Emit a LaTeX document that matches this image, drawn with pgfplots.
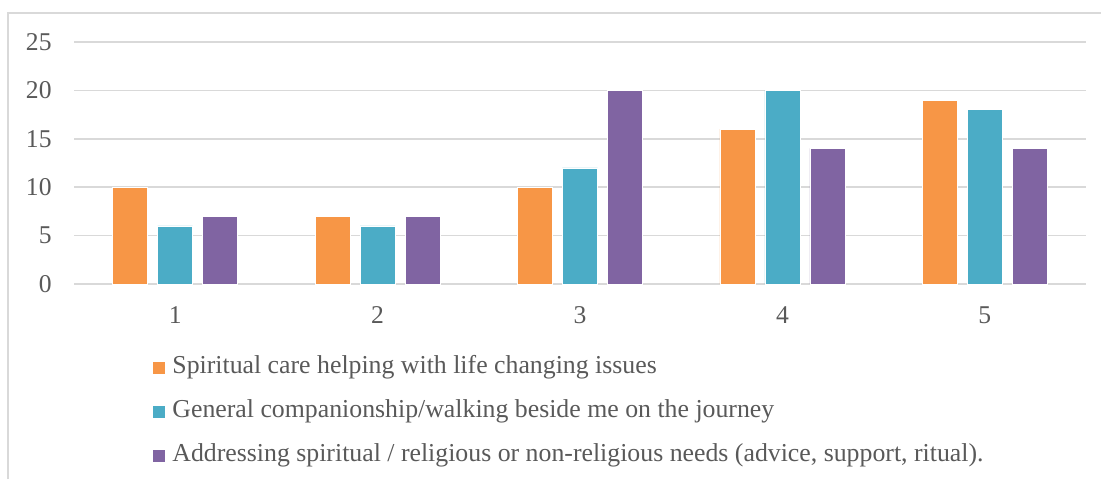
\documentclass[border=0pt]{standalone}
\usepackage{fontspec}
\setmainfont{Liberation Serif}
\usepackage{pgfplots}
\pgfplotsset{compat=1.18}
\definecolor{cOr}{HTML}{F79646}
\definecolor{cTe}{HTML}{4BACC6}
\definecolor{cPu}{HTML}{8064A2}
\definecolor{gridc}{HTML}{D9D9D9}
\definecolor{txt}{HTML}{595959}
\begin{document}
\begin{tikzpicture}
\path[use as bounding box] (0pt,0pt) rectangle (550.5pt,239.5pt);
\draw[gridc, line width=0.8pt] (4pt,0pt) -- (4pt,233pt) -- (550.5pt,233pt);
\begin{axis}[
  at={(37pt,97.5pt)}, anchor=south west,
  width=506pt, height=121pt, scale only axis,
  xmin=0.5, xmax=5.5, ymin=0, ymax=25,
  ytick={0,5,10,15,20,25}, xtick={1,2,3,4,5},
  axis line style={draw=none}, major tick length=0pt,
  ymajorgrids, grid style={gridc, line width=0.75pt},
  ticklabel style={font=\fontsize{12.8}{15}\selectfont, text=txt},
  /pgf/number format/assume math mode=true,
  yticklabel style={anchor=east, inner sep=0pt, xshift=-11pt},
  xticklabel style={anchor=north, inner sep=0pt, yshift=-11pt},
  ybar, bar width=0.173,
  legend style={at={(0.0781,-0.3017)}, anchor=north west, draw=none, fill=none,
    inner sep=0pt, font=\fontsize{12.9}{15}\selectfont, text=txt,
    nodes={inner sep=0pt, text height=8pt, text depth=3pt},
    column sep=3.5pt, row sep=11pt},
  legend cell align=left,
  legend image code/.code={\path[#1, draw=none] (0pt,-3pt) rectangle (6pt,3pt);},
]
\addplot[fill=cOr, draw=white, line width=0.3pt, bar shift=-0.222] coordinates {(1,10)(2,7)(3,10)(4,16)(5,19)};
\addplot[fill=cTe, draw=white, line width=0.3pt, bar shift=0] coordinates {(1,6)(2,6)(3,12)(4,20)(5,18)};
\addplot[fill=cPu, draw=white, line width=0.3pt, bar shift=0.222] coordinates {(1,7)(2,7)(3,20)(4,14)(5,14)};
\legend{Spiritual care helping with life changing issues,
General companionship/walking beside me on the journey,
Addressing spiritual / religious or non-religious needs (advice{,} support{,} ritual).}
\end{axis}
\end{tikzpicture}
\end{document}
